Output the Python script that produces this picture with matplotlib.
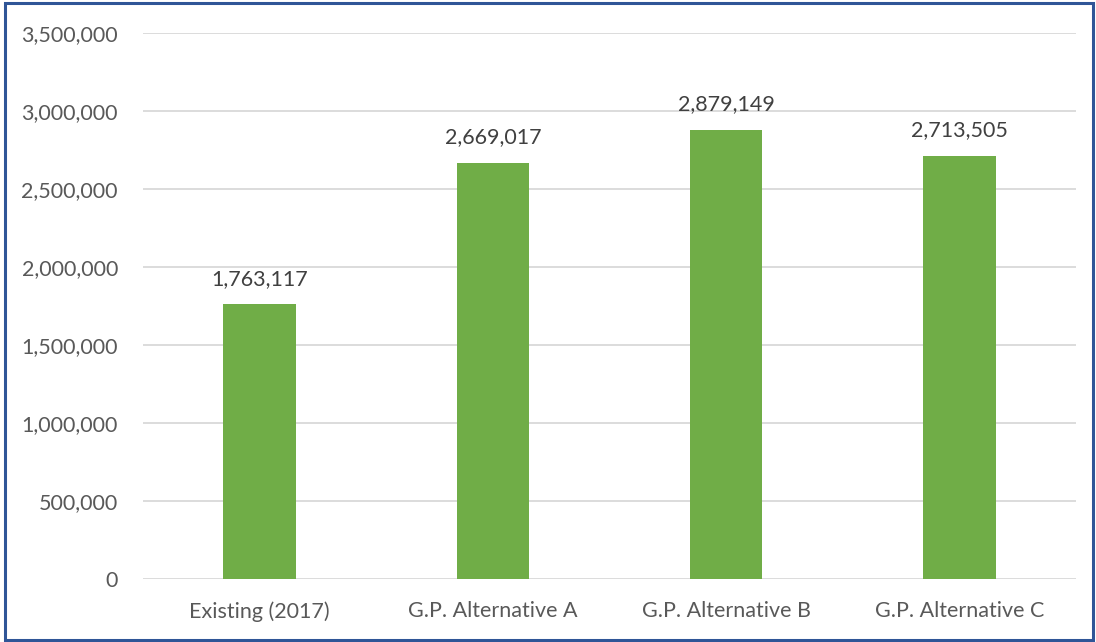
import matplotlib

matplotlib.use("Agg")
import matplotlib.pyplot as plt
from matplotlib.patches import Rectangle
from matplotlib.ticker import FuncFormatter

GREEN = "#70AD47"
GRID = "#D9D9D9"
TEXT = "#595959"
BORDER = "#2F5597"

categories = ["Existing (2017)", "G.P. Alternative A", "G.P. Alternative B", "G.P. Alternative C"]
values = [1763117, 2669017, 2879149, 2713505]
yticks = [0, 500000, 1000000, 1500000, 2000000, 2500000, 3000000, 3500000]

plt.rcParams["font.family"] = ["Lato", "DejaVu Sans"]

fig = plt.figure(figsize=(10.96, 6.42), dpi=100)
ax = fig.add_axes([143 / 1096, 1 - 579 / 642, 933 / 1096, 546 / 642])

x = range(len(categories))
ax.bar(x, values, width=0.31, color=GREEN, zorder=3)
for xi, v in zip(x, values):
    ax.annotate(f"{v:,}", (xi, v), xytext=(0, 11), textcoords="offset points",
                ha="center", va="bottom", fontsize=15.5, color="#404040")

ax.set_xlim(-0.5, len(categories) - 0.5)
ax.set_ylim(0, 3500000)
ax.set_yticks(yticks)
ax.yaxis.set_major_formatter(FuncFormatter(lambda v, _: f"{int(v):,}"))
ax.set_xticks(list(x))
ax.set_xticklabels(categories)
ax.tick_params(axis="both", length=0, labelsize=15.5, colors=TEXT)
ax.tick_params(axis="y", pad=18)
ax.tick_params(axis="x", pad=16)
ax.grid(axis="y", color=GRID, lw=1.3, zorder=0)
for s in ax.spines.values():
    s.set_visible(False)

# outer frame
fig.patches.append(Rectangle((5 / 1096, 2 / 642), 1088 / 1096, 637 / 642,
                             transform=fig.transFigure, fill=False,
                             ec=BORDER, lw=2.2))

fig.savefig("out.png", dpi=100, facecolor="white")
